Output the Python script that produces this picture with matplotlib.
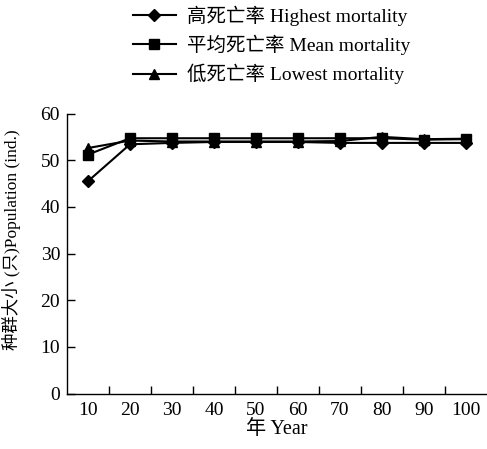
import matplotlib
matplotlib.use("Agg")
import matplotlib.pyplot as plt
import numpy as np

plt.rcParams['font.family'] = ['Liberation Serif', 'Noto Sans CJK SC']

years = [10, 20, 30, 40, 50, 60, 70, 80, 90, 100]
highest = [45.5, 53.4, 53.7, 53.9, 53.9, 53.9, 53.7, 53.7, 53.7, 53.7]
mean = [51.2, 54.7, 54.7, 54.7, 54.7, 54.7, 54.7, 54.7, 54.4, 54.5]
lowest = [52.6, 54.2, 54.0, 54.0, 54.0, 54.0, 54.1, 55.0, 54.5, 54.6]
labels = ['高死亡率 Highest mortality', '平均死亡率 Mean mortality', '低死亡率 Lowest mortality']

fig = plt.figure(figsize=(4.87, 4.49), dpi=100)
ax = fig.add_axes([0.1376, 0.1236, 0.862, 0.6236])

x = np.arange(len(years))
l1, = ax.plot(x, highest, color='black', marker='D', markersize=6, lw=1.5, label=labels[0])
l2, = ax.plot(x, mean, color='black', marker='s', markersize=6.5, lw=1.5, label=labels[1])
l3, = ax.plot(x, lowest, color='black', marker='^', markersize=7, lw=1.5, label=labels[2])

ax.set_xlim(-0.5, len(years) - 0.5)
ax.set_ylim(0, 60)
ax.set_yticks(range(0, 61, 10))
ax.set_xticks(x)
ax.set_xticklabels([str(y) for y in years])
ax.set_xticks(np.arange(0.5, len(years) - 0.5, 1), minor=True)
ax.tick_params(axis='x', which='major', length=0, labelsize=14, pad=6)
ax.tick_params(axis='x', which='minor', length=6, direction='in', width=1)
ax.tick_params(axis='y', length=6, direction='in', width=1, labelsize=14, pad=5)
for s in ['top', 'right']:
    ax.spines[s].set_visible(False)
for s in ['left', 'bottom']:
    ax.spines[s].set_linewidth(1)

ax.set_xlabel('年 Year', fontsize=14.5, labelpad=1)
ax.set_ylabel('种群大小 (只)Population (ind.)', fontsize=12.5)
ax.yaxis.set_label_coords(-0.11, 0.55)

fig.legend(handles=[l1, l2, l3], loc='upper center', bbox_to_anchor=(0.558, 1.026),
           frameon=False, fontsize=14, handlelength=2.2, handletextpad=0.6,
           labelspacing=0.45)

fig.savefig('out.png', dpi=100)
